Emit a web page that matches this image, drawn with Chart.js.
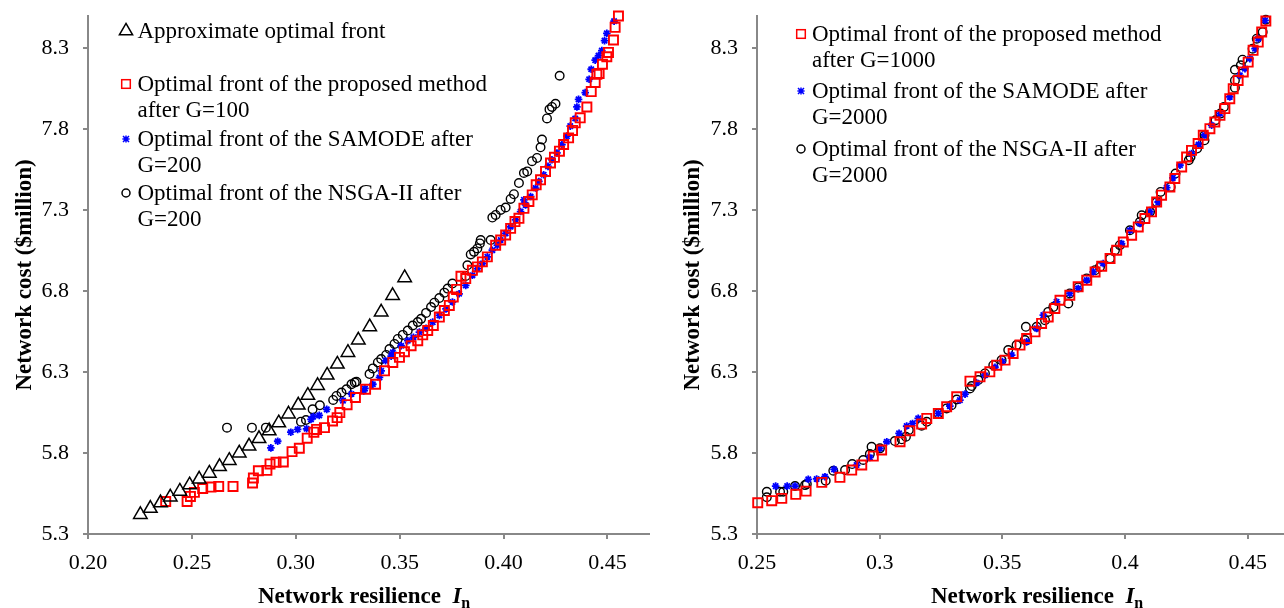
<!DOCTYPE html>
<html>
<head>
<meta charset="utf-8">
<script src="https://cdn.jsdelivr.net/npm/chart.js@4.4.1/dist/chart.umd.min.js"></script>
<style>
  body { margin: 0; background: #fff; width: 1284px; height: 608px; overflow: hidden; position: relative;
         font-family: "Liberation Serif", "Times New Roman", serif; color: #000; }
  canvas { position: absolute; top: 0; }
  .lg { position: absolute; font-size: 23px; line-height: 23px; white-space: nowrap; }
  .mk { position: absolute; overflow: visible; }
  .xt { position: absolute; font-size: 23px; line-height: 23px; font-weight: bold; white-space: nowrap; }
  .xt i { font-weight: bold; }
  .xt sub { font-size: 16px; vertical-align: -5px; }
</style>
</head>
<body>
<canvas id="left" width="650" height="608" style="left:0px"></canvas>
<canvas id="right" width="624" height="608" style="left:660px"></canvas>
<div class="xt" style="left:258px; top:584px">Network resilience&nbsp;&nbsp;<i>I</i><sub>n</sub></div>
<div class="xt" style="left:931px; top:584px">Network resilience&nbsp;&nbsp;<i>I</i><sub>n</sub></div>
<script>
// left panel: early generations
const approxFront = [
  [0.2252,5.420],[0.2300,5.458],[0.2349,5.492],[0.2396,5.528],[0.2442,5.564],[0.2489,5.603],
  [0.2535,5.639],[0.2584,5.675],[0.2633,5.716],[0.2680,5.754],[0.2728,5.800],[0.2775,5.843],
  [0.2823,5.889],[0.2872,5.937],[0.2918,5.986],[0.2965,6.041],[0.3012,6.096],[0.3058,6.156],
  [0.3105,6.217],[0.3151,6.281],[0.3200,6.349],[0.3251,6.421],[0.3301,6.498],[0.3356,6.580],
  [0.3411,6.671],[0.3466,6.773],[0.3524,6.883]
];
const proposedG100 = [
  [0.2374,5.501],[0.2477,5.501],[0.2493,5.532],[0.2512,5.557],[0.2552,5.581],[0.2592,5.590],
  [0.2629,5.594],[0.2698,5.594],[0.2792,5.615],[0.2796,5.646],[0.2820,5.691],[0.2861,5.693],
  [0.2876,5.733],[0.2905,5.743],[0.2940,5.745],[0.2982,5.809],[0.3017,5.830],[0.3055,5.892],
  [0.3087,5.929],[0.3100,5.946],[0.3138,5.957],[0.3177,5.998],[0.3199,6.019],[0.3212,6.050],
  [0.3247,6.099],[0.3287,6.143],[0.3336,6.194],[0.3384,6.225],[0.3427,6.308],[0.3467,6.360],
  [0.3499,6.391],[0.3523,6.426],[0.3555,6.463],[0.3587,6.494],[0.3611,6.530],[0.3635,6.557],
  [0.3662,6.588],[0.3691,6.640],[0.3715,6.681],[0.3739,6.712],[0.3758,6.764],[0.3774,6.811],
  [0.3795,6.892],[0.3818,6.878],[0.3850,6.929],[0.3874,6.950],[0.3898,6.981],[0.3922,7.012],
  [0.3962,7.084],[0.3986,7.116],[0.4010,7.147],[0.4034,7.188],[0.4055,7.230],[0.4074,7.250],
  [0.4098,7.312],[0.4122,7.354],[0.4138,7.395],[0.4157,7.457],[0.4178,7.488],[0.4202,7.540],
  [0.4226,7.592],[0.4245,7.627],[0.4269,7.665],[0.4289,7.706],[0.4313,7.747],[0.4332,7.793],
  [0.4345,7.840],[0.4369,7.871],[0.4401,7.938],[0.4422,8.033],[0.4441,8.089],[0.4449,8.140],
  [0.4460,8.145],[0.4476,8.202],[0.4497,8.248],[0.4505,8.275],[0.4529,8.352],[0.4537,8.430],
  [0.4553,8.500]
];
const samodeG200 = [
  [0.2880,5.832],[0.2913,5.873],[0.2976,5.929],[0.3009,5.946],[0.3052,5.950],[0.3073,6.008],
  [0.3084,6.025],[0.3113,6.033],[0.3149,6.070],[0.3227,6.124],[0.3268,6.165],[0.3327,6.184],
  [0.3333,6.199],[0.3371,6.225],[0.3403,6.267],[0.3411,6.308],[0.3432,6.370],[0.3459,6.398],
  [0.3467,6.422],[0.3507,6.463],[0.3539,6.494],[0.3566,6.515],[0.3595,6.547],[0.3627,6.571],
  [0.3659,6.609],[0.3691,6.650],[0.3723,6.691],[0.3754,6.733],[0.3786,6.784],[0.3818,6.836],
  [0.3850,6.898],[0.3874,6.940],[0.3898,6.971],[0.3922,7.012],[0.3946,7.053],[0.3970,7.084],
  [0.3986,7.116],[0.4010,7.157],[0.4034,7.198],[0.4058,7.240],[0.4082,7.292],[0.4098,7.364],
  [0.4106,7.333],[0.4130,7.385],[0.4154,7.437],[0.4170,7.478],[0.4193,7.519],[0.4214,7.571],
  [0.4233,7.612],[0.4257,7.654],[0.4281,7.706],[0.4305,7.758],[0.4321,7.820],[0.4345,7.867],
  [0.4353,7.938],[0.4361,7.985],[0.4393,8.027],[0.4412,8.109],[0.4422,8.171],[0.4441,8.227],
  [0.4457,8.255],[0.4473,8.286],[0.4486,8.348],[0.4497,8.393],[0.4532,8.468]
];
const nsgaG200 = [
  [0.2669,5.957],[0.2789,5.957],[0.2856,5.957],[0.3025,5.994],[0.3049,6.004],[0.3081,6.070],
  [0.3116,6.095],[0.3180,6.128],[0.3196,6.153],[0.3220,6.174],[0.3244,6.194],[0.3268,6.225],
  [0.3284,6.236],[0.3292,6.240],[0.3355,6.288],[0.3371,6.323],[0.3395,6.360],[0.3411,6.381],
  [0.3435,6.406],[0.3451,6.443],[0.3475,6.474],[0.3491,6.505],[0.3515,6.530],[0.3539,6.557],
  [0.3563,6.588],[0.3587,6.609],[0.3603,6.629],[0.3627,6.666],[0.3651,6.702],[0.3667,6.729],
  [0.3691,6.758],[0.3715,6.791],[0.3731,6.816],[0.3754,6.847],[0.3818,6.894],[0.3826,6.960],
  [0.3842,7.027],[0.3858,7.043],[0.3874,7.064],[0.3886,7.095],[0.3890,7.116],[0.3938,7.116],
  [0.3946,7.255],[0.3962,7.271],[0.3986,7.302],[0.4010,7.317],[0.4034,7.370],[0.4050,7.399],
  [0.4074,7.468],[0.4098,7.530],[0.4114,7.540],[0.4137,7.603],[0.4161,7.623],[0.4178,7.689],
  [0.4185,7.737],[0.4209,7.867],[0.4221,7.923],[0.4233,7.938],[0.4250,7.958],[0.4270,8.131]
];

// right panel: late generations
const proposedG1000 = [
  [0.2503,5.493],[0.2560,5.506],[0.2601,5.520],[0.2658,5.545],[0.2700,5.565],[0.2764,5.619],
  [0.2838,5.650],[0.2886,5.695],[0.2927,5.726],[0.2974,5.781],[0.3008,5.819],[0.3083,5.870],
  [0.3123,5.938],[0.3171,5.979],[0.3192,6.014],[0.3239,6.045],[0.3273,6.086],[0.3314,6.148],
  [0.3368,6.244],[0.3409,6.271],[0.3449,6.302],[0.3477,6.343],[0.3511,6.374],[0.3544,6.415],
  [0.3572,6.467],[0.3599,6.508],[0.3633,6.549],[0.3660,6.601],[0.3687,6.641],[0.3714,6.693],
  [0.3735,6.744],[0.3775,6.775],[0.3809,6.827],[0.3844,6.868],[0.3878,6.919],[0.3905,6.954],
  [0.3939,7.002],[0.3966,7.053],[0.3993,7.104],[0.4027,7.146],[0.4054,7.197],[0.4081,7.249],
  [0.4108,7.290],[0.4129,7.351],[0.4149,7.393],[0.4183,7.444],[0.4203,7.496],[0.4231,7.567],
  [0.4251,7.629],[0.4271,7.670],[0.4298,7.712],[0.4319,7.763],[0.4346,7.804],[0.4366,7.845],
  [0.4387,7.886],[0.4407,7.928],[0.4427,7.989],[0.4441,8.051],[0.4461,8.102],[0.4482,8.154],
  [0.4502,8.215],[0.4522,8.288],[0.4543,8.339],[0.4557,8.401],[0.4574,8.469]
];
const samodeG2000 = [
  [0.2576,5.596],[0.2623,5.596],[0.2655,5.596],[0.2709,5.638],[0.2743,5.640],[0.2777,5.654],
  [0.2814,5.699],[0.2906,5.726],[0.2960,5.773],[0.3001,5.829],[0.3029,5.870],[0.3079,5.922],
  [0.3110,5.967],[0.3134,5.983],[0.3157,6.014],[0.3239,6.045],[0.3286,6.090],[0.3327,6.127],
  [0.3348,6.164],[0.3395,6.234],[0.3429,6.281],[0.3470,6.330],[0.3500,6.365],[0.3538,6.405],
  [0.3599,6.487],[0.3640,6.570],[0.3667,6.652],[0.3721,6.734],[0.3775,6.786],[0.3809,6.817],
  [0.3844,6.868],[0.3870,6.919],[0.3911,6.971],[0.3986,7.094],[0.4020,7.176],[0.4061,7.218],
  [0.4102,7.290],[0.4135,7.351],[0.4170,7.440],[0.4195,7.500],[0.4224,7.578],[0.4271,7.650],
  [0.4300,7.705],[0.4325,7.765],[0.4353,7.825],[0.4387,7.897],[0.4427,8.000],[0.4468,8.133],
  [0.4489,8.175],[0.4509,8.236],[0.4530,8.298],[0.4543,8.360],[0.4571,8.473]
];
const nsgaG2000 = [
  [0.2540,5.561],[0.2540,5.527],[0.2594,5.561],[0.2607,5.561],[0.2655,5.596],[0.2696,5.602],
  [0.2703,5.609],[0.2780,5.629],[0.2811,5.691],[0.2859,5.695],[0.2888,5.732],[0.2933,5.757],
  [0.2960,5.794],[0.2967,5.839],[0.3001,5.829],[0.3062,5.874],[0.3090,5.885],[0.3107,5.901],
  [0.3119,5.942],[0.3171,5.969],[0.3192,5.993],[0.3239,6.045],[0.3273,6.076],[0.3293,6.096],
  [0.3314,6.131],[0.3368,6.199],[0.3375,6.214],[0.3402,6.251],[0.3429,6.292],[0.3463,6.343],
  [0.3497,6.374],[0.3524,6.436],[0.3558,6.467],[0.3592,6.498],[0.3596,6.580],[0.3640,6.580],
  [0.3674,6.621],[0.3687,6.672],[0.3708,6.703],[0.3769,6.724],[0.3775,6.786],[0.3809,6.823],
  [0.3844,6.879],[0.3878,6.930],[0.3898,6.950],[0.3939,7.002],[0.3959,7.053],[0.3979,7.084],
  [0.4020,7.176],[0.4061,7.228],[0.4068,7.269],[0.4102,7.290],[0.4129,7.351],[0.4145,7.413],
  [0.4186,7.444],[0.4206,7.527],[0.4260,7.609],[0.4267,7.629],[0.4294,7.681],[0.4324,7.732],
  [0.4324,7.763],[0.4369,7.856],[0.4389,7.897],[0.4403,7.938],[0.4448,8.057],[0.4448,8.102],
  [0.4448,8.168],[0.4472,8.195],[0.4479,8.230],[0.4520,8.298],[0.4537,8.360],[0.4561,8.401],
  [0.4574,8.477]
];

const leftXTicks = [0.20, 0.25, 0.30, 0.35, 0.40, 0.45];
const rightXTicks = [0.25, 0.30, 0.35, 0.40, 0.45];
const yTicks = [5.3, 5.8, 6.3, 6.8, 7.3, 7.8, 8.3];

const leftLabels = [
  ['Approximate optimal front'],
  ['Optimal front of the proposed method', 'after G=100'],
  ['Optimal front of the SAMODE after', 'G=200'],
  ['Optimal front of the NSGA-II after', 'G=200']
];
const rightLabels = [
  ['Optimal front of the proposed method', 'after G=1000'],
  ['Optimal front of the SAMODE after', 'G=2000'],
  ['Optimal front of the NSGA-II after', 'G=2000']
];

const FONT = "'Liberation Serif', 'Times New Roman', serif";
const axisGray = '#888888';
Chart.defaults.font.family = FONT;

const markers = {
  triangle: { pointStyle: 'triangle', pointRadius: 7.8, borderColor: '#000', borderWidth: 1.5 },
  rect: { pointStyle: 'rect', pointRadius: 6.4, borderColor: '#ff0000', borderWidth: 1.9 },
  star: { pointStyle: 'star', pointRadius: 3.8, borderColor: '#0000ff', borderWidth: 1.8 },
  circle: { pointStyle: 'circle', pointRadius: 4.3, borderColor: '#000', borderWidth: 1.4 }
};

function series(label, arr, kind) {
  return Object.assign({
    label: label.join(' '),
    data: arr.map(([x, y]) => ({ x, y })),
    backgroundColor: 'rgba(0,0,0,0)',
    showLine: false,
    clip: false
  }, markers[kind]);
}

function buildChart(id, cfg) {
  const ctx = document.getElementById(id).getContext('2d');
  return new Chart(ctx, {
    type: 'scatter',
    data: { datasets: cfg.datasets },
    options: {
      responsive: false,
      animation: false,
      events: [],
      layout: { autoPadding: false, padding: { top: 16, right: cfg.padRight, bottom: 0, left: 0 } },
      plugins: { legend: { display: false }, tooltip: { enabled: false } },
      scales: {
        x: {
          type: 'linear', min: cfg.xMin, max: cfg.xMax,
          afterBuildTicks: s => { s.ticks = cfg.xTicks.map(v => ({ value: v })); },
          afterFit: s => { s.height = 74; s.paddingLeft = 0; s.paddingRight = 0; },
          ticks: { callback: cfg.xFmt, color: '#000', font: { size: 22 }, padding: 11, maxRotation: 0, autoSkip: false },
          grid: { drawOnChartArea: false, tickLength: 5, color: axisGray, lineWidth: 2 },
          border: { color: axisGray, width: 2 }
        },
        y: {
          type: 'linear', min: 5.3, max: 8.5,
          afterBuildTicks: s => { s.ticks = yTicks.map(v => ({ value: v })); },
          afterFit: s => { s.width = cfg.yWidth; s.paddingTop = 0; s.paddingBottom = 0; },
          ticks: { callback: v => v.toFixed(1), color: '#000', font: { size: 22 }, padding: 14 },
          grid: { drawOnChartArea: false, tickLength: 5, color: axisGray, lineWidth: 2 },
          border: { color: axisGray, width: 2 },
          title: {
            display: true, text: 'Network cost ($million)', color: '#000',
            font: { size: 23, weight: 'bold' }, padding: { top: cfg.titlePad, bottom: 0 }
          }
        }
      }
    }
  });
}

buildChart('left', {
  xMin: 0.20, xMax: 0.47, xTicks: leftXTicks, xFmt: v => v.toFixed(2),
  yWidth: 88, titlePad: 11, padRight: 1,
  datasets: [
    series(leftLabels[0], approxFront, 'triangle'),
    series(leftLabels[1], proposedG100, 'rect'),
    series(leftLabels[2], samodeG200, 'star'),
    series(leftLabels[3], nsgaG200, 'circle')
  ]
});

buildChart('right', {
  xMin: 0.25, xMax: 0.4648, xTicks: rightXTicks, xFmt: v => String(Number(v.toFixed(2))),
  yWidth: 97, titlePad: 19, padRight: 0,
  datasets: [
    series(rightLabels[0], proposedG1000, 'rect'),
    series(rightLabels[1], samodeG2000, 'star'),
    series(rightLabels[2], nsgaG2000, 'circle')
  ]
});

// legend drawn as html text, marker icons as small svgs
function markerSvg(kind) {
  const s = 'stroke-width="1.5" fill="none"';
  if (kind === 'triangle') return `<polygon points="0,-7.6 6.6,3.8 -6.6,3.8" stroke="#000" ${s}/>`;
  if (kind === 'rect') return `<rect x="-4.3" y="-4.3" width="8.6" height="8.6" stroke="#ff0000" ${s}/>`;
  if (kind === 'star') return `<path d="M-3,-3L3,3M3,-3L-3,3M0,-3.6L0,3.6M-3.6,0L3.6,0" stroke="#0000ff" ${s}/>`;
  return `<circle r="4" stroke="#000" ${s}/>`;
}

function buildLegend(labels, kinds, entryY, markX, textX) {
  labels.forEach((lines, i) => {
    const svg = document.createElementNS('http://www.w3.org/2000/svg', 'svg');
    svg.setAttribute('class', 'mk');
    svg.setAttribute('width', '20');
    svg.setAttribute('height', '20');
    svg.setAttribute('viewBox', '-10 -10 20 20');
    svg.style.left = (markX - 10) + 'px';
    svg.style.top = (entryY[i] - 10) + 'px';
    svg.innerHTML = markerSvg(kinds[i]);
    document.body.appendChild(svg);
    lines.forEach((t, j) => {
      const d = document.createElement('div');
      d.className = 'lg';
      d.textContent = t;
      d.style.left = textX + 'px';
      d.style.top = (entryY[i] + j * 26 - 11.7) + 'px';
      document.body.appendChild(d);
    });
  });
}

buildLegend(leftLabels, ['triangle', 'rect', 'star', 'circle'], [31, 84, 139, 193], 126, 137.5);
buildLegend(rightLabels, ['rect', 'star', 'circle'], [34, 91, 149], 801, 812);
</script>
</body>
</html>
